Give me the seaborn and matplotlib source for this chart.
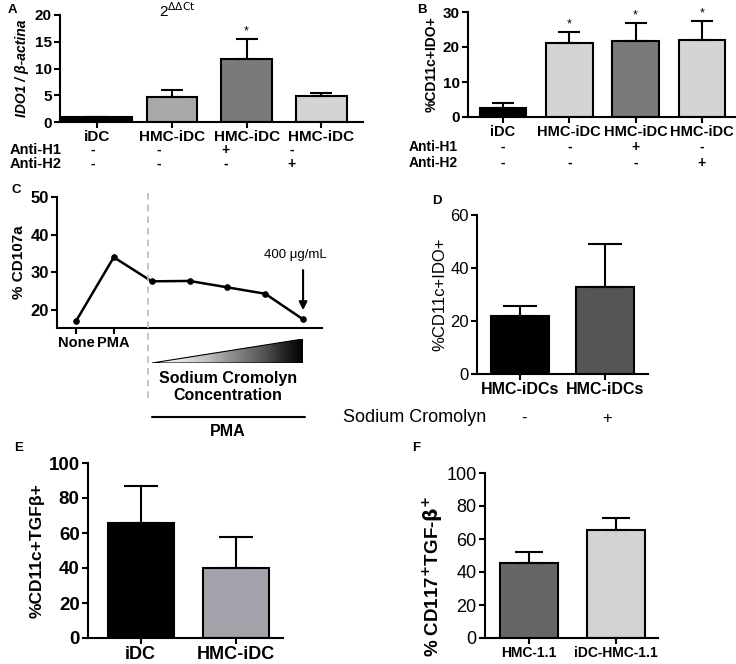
import numpy as np
import pandas as pd
import matplotlib
matplotlib.use("Agg")
import matplotlib.pyplot as plt
import seaborn as sns
from matplotlib.lines import Line2D
from matplotlib.patches import Polygon

# ---------------- data ----------------
a_labels = ["iDC", "HMC-iDC", "HMC-iDC", "HMC-iDC"]
a_vals = [1.0, 4.6, 11.7, 4.9]
a_err = [0.0, 1.3, 3.8, 0.6]
a_h1 = ["-", "-", "+", "-"]
a_h2 = ["-", "-", "-", "+"]
a_colors = ["#000000", "#a9a9a9", "#7a7a7a", "#d4d4d4"]
a_star = [False, False, True, False]

b_labels = ["iDC", "HMC-iDC", "HMC-iDC", "HMC-iDC"]
b_vals = [2.5, 21.2, 21.6, 22.0]
b_err = [1.4, 3.0, 5.3, 5.4]
b_h1 = ["-", "-", "+", "-"]
b_h2 = ["-", "-", "-", "+"]
b_colors = ["#000000", "#d4d4d4", "#7a7a7a", "#d4d4d4"]
b_star = [False, True, True, True]

c_vals = [17.0, 34.0, 27.6, 27.7, 26.0, 24.3, 17.5]
c_ticklabels = ["None", "PMA"]

d_labels = ["HMC-iDCs", "HMC-iDCs"]
d_vals = [22.0, 33.0]
d_err = [3.5, 16.2]
d_signs = ["-", "+"]
d_colors = ["#000000", "#555555"]

e_labels = ["iDC", "HMC-iDC"]
e_vals = [65.5, 40.0]
e_err = [21.5, 18.0]
e_colors = ["#000000", "#a2a2aa"]

f_labels = ["HMC-1.1", "iDC-HMC-1.1"]
f_vals = [45.5, 65.5]
f_err = [6.5, 7.5]
f_colors = ["#666666", "#d3d3d3"]

# ---------------- setup ----------------
sns.set_style("ticks")
plt.rcParams["font.family"] = ["Liberation Sans", "DejaVu Sans"]
plt.rcParams["axes.linewidth"] = 1.5
for k in ["text.color", "axes.labelcolor", "xtick.color", "ytick.color", "axes.edgecolor"]:
    plt.rcParams[k] = "black"

W, H = 736, 664
fig = plt.figure(figsize=(W / 100, H / 100), dpi=100)


def ax_px(l, r, t, b):
    return fig.add_axes([l / W, 1 - b / H, (r - l) / W, (b - t) / H])


def ftext(x, y, s, **kw):
    fig.text(x / W, 1 - y / H, s, **kw)


def style_ax(ax, tick_fs, tick_bold, xfs, xbold=True):
    sns.despine(ax=ax)
    ax.tick_params(axis="both", length=4.5, width=1.5, direction="out", pad=1.5)
    for t in ax.get_yticklabels():
        t.set_fontsize(tick_fs)
        t.set_fontweight("bold" if tick_bold else "normal")
    for t in ax.get_xticklabels():
        t.set_fontsize(xfs)
        t.set_fontweight("bold" if xbold else "normal")
    ax.set_xlabel("")


def bars(ax, labels, vals, errs, colors, width, capsize):
    n = len(vals)
    pos = list(range(n))
    df = pd.DataFrame({"pos": pos, "val": vals})
    sns.barplot(data=df, x="pos", y="val", hue="pos", palette=colors,
                legend=False, ax=ax, width=width, edgecolor="black",
                linewidth=1.5, saturation=1)
    ax.errorbar(pos, vals, yerr=[np.zeros(n), errs], fmt="none",
                ecolor="black", elinewidth=1.5, capsize=capsize, capthick=1.5)
    ax.set_xticks(pos)
    ax.set_xticklabels(labels)
    return pos


# ---------------- Panel A ----------------
axA = ax_px(60, 363, 15, 122)
bars(axA, a_labels, a_vals, a_err, a_colors, 0.68, 8)
pA0 = axA.patches[0]
pA0.set_x(-0.47)
pA0.set_width(0.94)
axA.set_xlim(-0.5, 3.56)
axA.set_ylim(0, 20)
axA.set_yticks([0, 5, 10, 15, 20])
axA.set_ylabel("IDO1 / β-actina", fontsize=10, fontweight="bold",
               fontstyle="italic", labelpad=4)
style_ax(axA, 11, True, 11)
ftext(177, 11, r"2$^{\Delta\Delta\mathrm{Ct}}$", fontsize=11, ha="center", va="center")
for i, s in enumerate(a_star):
    if s:
        axA.text(i, a_vals[i] + a_err[i] + 0.3, "*", ha="center", va="bottom", fontsize=9)
ftext(10, 150, "Anti-H1", fontsize=10.5, fontweight="bold", va="center")
ftext(10, 164, "Anti-H2", fontsize=10.5, fontweight="bold", va="center")
xA = [93, 159, 226, 292]
for i in range(4):
    ftext(xA[i], 150, a_h1[i], fontsize=10, fontweight="bold", ha="center", va="center")
    ftext(xA[i], 164, a_h2[i], fontsize=10, fontweight="bold", ha="center", va="center")
ftext(8, 10, "A", fontsize=9.5, fontweight="bold", va="center")

# ---------------- Panel B ----------------
axB = ax_px(468, 735, 12, 117)
bars(axB, b_labels, b_vals, b_err, b_colors, 0.70, 8)
axB.set_xlim(-0.53, 3.5)
axB.set_ylim(0, 30)
axB.set_yticks([0, 10, 20, 30])
axB.set_ylabel("%CD11c+IDO+", fontsize=10, fontweight="bold", labelpad=3)
style_ax(axB, 11, True, 10.5)
for i, s in enumerate(b_star):
    if s:
        axB.text(i, b_vals[i] + b_err[i] + 0.4, "*", ha="center", va="bottom", fontsize=9)
ftext(409, 147, "Anti-H1", fontsize=10, fontweight="bold", va="center")
ftext(409, 163, "Anti-H2", fontsize=10, fontweight="bold", va="center")
xB = [503, 570, 636, 702]
for i in range(4):
    ftext(xB[i], 147, b_h1[i], fontsize=10, fontweight="bold", ha="center", va="center")
    ftext(xB[i], 163, b_h2[i], fontsize=10, fontweight="bold", ha="center", va="center")
ftext(417, 10, "B", fontsize=9.5, fontweight="bold", va="center")

# ---------------- Panel C ----------------
axC = ax_px(57, 322, 197, 328)
cx = list(range(len(c_vals)))
sns.lineplot(x=cx, y=c_vals, ax=axC, color="black", linewidth=1.8,
             marker="o", markersize=4, markeredgecolor="black")
axC.set_xlim(-0.5, 6.5)
axC.set_ylim(15.2, 50)
axC.set_yticks([20, 30, 40, 50])
axC.set_xticks([0, 1])
axC.set_xticklabels(c_ticklabels)
axC.set_ylabel("% CD107a", fontsize=11, fontweight="bold", labelpad=3)
style_ax(axC, 12, True, 10.5)
axC.annotate("", xy=(6, 19.2), xytext=(6, 31.3),
             arrowprops=dict(arrowstyle="-|>", color="black", lw=1.5, mutation_scale=12))
axC.text(5.8, 34.6, "400 μg/mL", ha="center", va="center", fontsize=9.5)
ftext(12, 190, "C", fontsize=9.5, fontweight="bold", va="center")
fig.add_artist(Line2D([148 / W, 148 / W], [1 - 193 / H, 1 - 400 / H],
                      color="#bbbbbb", lw=1.2, linestyle=(0, (4, 3))))
axG = ax_px(152, 303, 339, 363)
grad = np.linspace(0, 1, 256).reshape(1, -1)
im = axG.imshow(grad, cmap="Greys", aspect="auto", extent=(0, 1, 0, 1), vmin=0, vmax=1)
tri = Polygon([(0, 0), (1, 0), (1, 1)], closed=True, transform=axG.transData,
              facecolor="none", edgecolor="black", lw=0.8)
axG.add_patch(tri)
im.set_clip_path(tri)
axG.set_xlim(0, 1)
axG.set_ylim(0, 1)
axG.axis("off")
ftext(228, 378, "Sodium Cromolyn", fontsize=11.5, fontweight="bold", ha="center", va="center")
ftext(228, 395, "Concentration", fontsize=11.5, fontweight="bold", ha="center", va="center")
fig.add_artist(Line2D([152 / W, 305 / W], [1 - 417 / H, 1 - 417 / H], color="black", lw=1.5))
ftext(228, 432, "PMA", fontsize=11.5, fontweight="bold", ha="center", va="center")

# ---------------- Panel D ----------------
axD = ax_px(477, 648, 215, 374)
bars(axD, d_labels, d_vals, d_err, d_colors, 0.68, 12)
axD.set_xlim(-0.5, 1.5)
axD.set_ylim(0, 60)
axD.set_yticks([0, 20, 40, 60])
axD.set_ylabel("%CD11c+IDO+", fontsize=12, labelpad=2)
style_ax(axD, 12, False, 11.5)
ftext(343, 418, "Sodium Cromolyn", fontsize=13, va="center")
xD = [524, 607]
for i in range(2):
    ftext(xD[i], 418, d_signs[i], fontsize=12, ha="center", va="center")
ftext(432, 201, "D", fontsize=9.5, fontweight="bold", va="center")

# ---------------- Panel E ----------------
axE = ax_px(88, 283, 463, 638)
bars(axE, e_labels, e_vals, e_err, e_colors, 0.69, 12)
axE.set_xlim(-0.55, 1.49)
axE.set_ylim(0, 100)
axE.set_yticks([0, 20, 40, 60, 80, 100])
axE.set_ylabel("%CD11c+TGFβ+", fontsize=12.5, fontweight="bold", labelpad=3)
style_ax(axE, 13.5, True, 13)
ftext(14, 448, "E", fontsize=9.5, fontweight="bold", va="center")

# ---------------- Panel F ----------------
axF = ax_px(485, 658, 473, 638)
bars(axF, f_labels, f_vals, f_err, f_colors, 0.66, 10)
axF.set_xlim(-0.5, 1.48)
axF.set_ylim(0, 100)
axF.set_yticks([0, 20, 40, 60, 80, 100])
axF.set_ylabel(r"% CD117$^{\bf{+}}$TGF-$\bf{\beta}^{\bf{+}}$", fontsize=13.5,
               fontweight="bold")
style_ax(axF, 13, False, 10)
axF.yaxis.set_label_coords(-0.23, 0.37)
ftext(412, 448, "F", fontsize=9.5, fontweight="bold", va="center")

fig.savefig("out.png", dpi=100)
